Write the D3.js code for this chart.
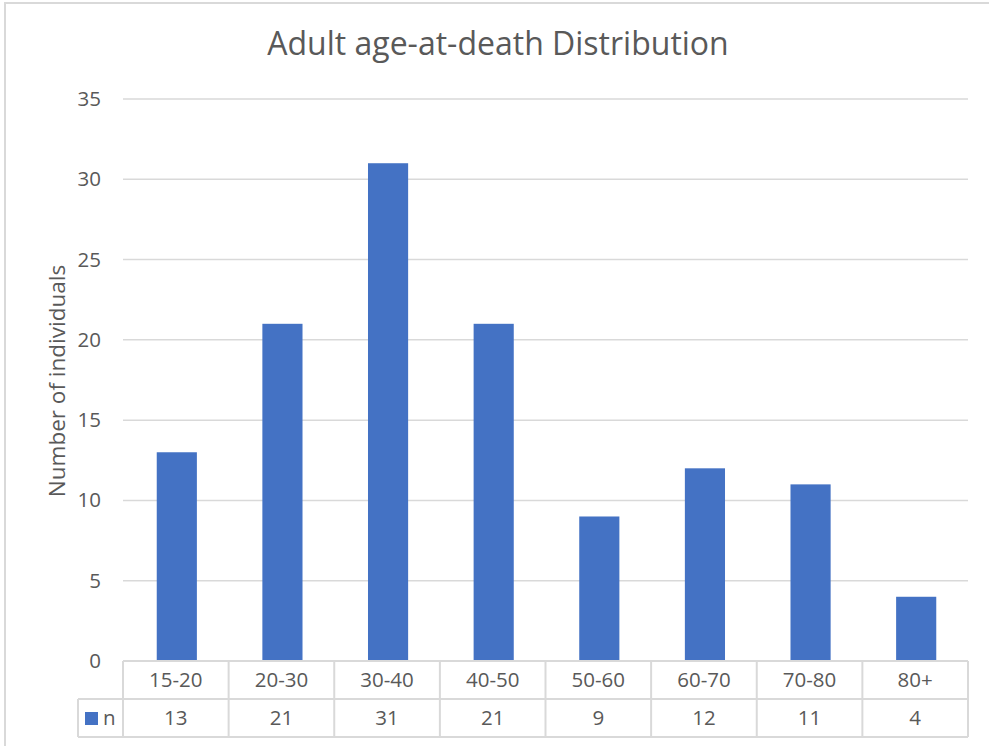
<!DOCTYPE html>
<html>
<head>
<meta charset="utf-8">
<script src="https://cdn.jsdelivr.net/npm/d3@7"></script>
<style>
  body { margin: 0; background: #fff; }
  svg text { font-family: "Open Sans", "Liberation Sans", sans-serif; fill: #595959; }
</style>
</head>
<body>
<svg id="chart" width="989" height="746"></svg>
<script>
// Data
const categories = ["15-20", "20-30", "30-40", "40-50", "50-60", "60-70", "70-80", "80+"];
const counts = [13, 21, 31, 21, 9, 12, 11, 4];
const yTicks = [0, 5, 10, 15, 20, 25, 30, 35];
const seriesName = "n";

const svg = d3.select("#chart");

// chart border
svg.append("rect")
    .attr("x", 5).attr("y", 3)
    .attr("width", 1000).attr("height", 800)
    .attr("fill", "none")
    .attr("stroke", "#d9d9d9")
    .attr("stroke-width", 2);

const margin = { top: 99, right: 21, bottom: 85, left: 123 };
const width = 989 - margin.left - margin.right;
const height = 746 - margin.top - margin.bottom;

const g = svg.append("g")
    .attr("transform", "translate(" + margin.left + "," + margin.top + ")");

// scales
const x = d3.scaleBand()
    .domain(categories)
    .range([0, width])
    .paddingInner(0.62)
    .paddingOuter(0.31);

const xCell = d3.scaleBand()
    .domain(categories)
    .range([0, width]);

const y = d3.scaleLinear()
    .domain([0, 35])
    .range([height, 0]);

// gridlines
g.selectAll(".grid")
    .data(yTicks)
    .enter().append("line")
    .attr("x1", 0).attr("x2", width)
    .attr("y1", d => y(d)).attr("y2", d => y(d))
    .attr("stroke", "#d9d9d9")
    .attr("stroke-width", 1.5);

// y axis labels
const yAxis = d3.axisLeft(y).tickValues(yTicks).tickSize(0).tickPadding(22);
g.append("g")
    .call(yAxis)
    .call(a => a.select(".domain").remove())
    .selectAll("text")
    .style("font-size", "20.5px")
    .attr("fill", "#595959");

// bars
g.selectAll(".bar")
    .data(counts)
    .enter().append("rect")
    .attr("class", "bar")
    .attr("x", (d, i) => x(categories[i]) + 1)
    .attr("y", d => y(d))
    .attr("width", x.bandwidth())
    .attr("height", d => height - y(d))
    .attr("fill", "#4472c4");

// data table
const rowH = 38;
const tbl = g.append("g").attr("transform", "translate(0," + height + ")");
const lineColor = "#d9d9d9";

// horizontal lines
tbl.append("line").attr("x1", 0).attr("x2", width).attr("y1", 0).attr("y2", 0)
    .attr("stroke", lineColor).attr("stroke-width", 2);
tbl.append("line").attr("x1", -45).attr("x2", width).attr("y1", rowH).attr("y2", rowH)
    .attr("stroke", lineColor).attr("stroke-width", 2);
tbl.append("line").attr("x1", -45).attr("x2", width).attr("y1", rowH * 2).attr("y2", rowH * 2)
    .attr("stroke", lineColor).attr("stroke-width", 2);

// vertical lines
const vlines = [0].concat(categories.map(c => xCell(c) + xCell.bandwidth()));
tbl.selectAll(".vline")
    .data(vlines)
    .enter().append("line")
    .attr("x1", d => d).attr("x2", d => d)
    .attr("y1", 0).attr("y2", rowH * 2)
    .attr("stroke", lineColor).attr("stroke-width", 2);
tbl.append("line").attr("x1", -45).attr("x2", -45).attr("y1", rowH).attr("y2", rowH * 2)
    .attr("stroke", lineColor).attr("stroke-width", 2);

// category labels
tbl.selectAll(".cat")
    .data(categories)
    .enter().append("text")
    .attr("x", d => xCell(d) + xCell.bandwidth() / 2)
    .attr("y", rowH / 2 + 7)
    .attr("text-anchor", "middle")
    .style("font-size", "20.5px")
    .text(d => d);

// values
tbl.selectAll(".val")
    .data(counts)
    .enter().append("text")
    .attr("x", (d, i) => xCell(categories[i]) + xCell.bandwidth() / 2)
    .attr("y", rowH + rowH / 2 + 7)
    .attr("text-anchor", "middle")
    .style("font-size", "20.5px")
    .text(d => d);

// legend key
tbl.append("rect")
    .attr("x", -38).attr("y", rowH + 13)
    .attr("width", 13).attr("height", 13)
    .attr("fill", "#4472c4");
tbl.append("text")
    .attr("x", -20).attr("y", rowH + rowH / 2 + 7)
    .style("font-size", "20.5px")
    .text(seriesName);

// y axis title
svg.append("text")
    .attr("transform", "translate(65,381) rotate(-90)")
    .attr("text-anchor", "middle")
    .style("font-size", "22.5px")
    .text("Number of individuals");

// chart title
svg.append("text")
    .attr("x", 498)
    .attr("y", 55)
    .attr("text-anchor", "middle")
    .style("font-size", "32px")
    .text("Adult age-at-death Distribution");
</script>
</body>
</html>
